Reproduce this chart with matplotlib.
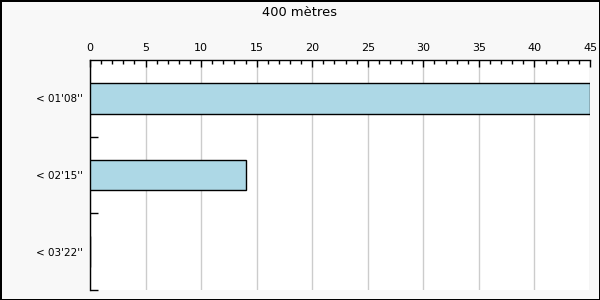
import matplotlib.pyplot as plt
import numpy as np
from matplotlib.ticker import MultipleLocator, FixedLocator

titre = "400 mètres"
categories = ["< 01'08''", "< 02'15''", "< 03'22''"]
valeurs = [45, 14, 0]

fig = plt.figure(figsize=(6, 3), dpi=100, facecolor="#f8f8f8", edgecolor="black", linewidth=2)
ax = fig.add_axes([90 / 600, 10 / 300, 500 / 600, 230 / 300])
ax.set_facecolor("white")

pos = np.arange(len(categories))
ax.barh(pos, valeurs, height=0.4, color="lightblue", edgecolor="black", linewidth=1, zorder=3)

ax.set_xlim(0, 45)
ax.set_ylim(len(categories) - 0.5, -0.5)

ax.xaxis.tick_top()
ax.xaxis.set_major_locator(MultipleLocator(5))
ax.xaxis.set_minor_locator(MultipleLocator(1))
ax.tick_params(axis="x", which="major", direction="in", length=5, width=1, labelsize=8, pad=5)
ax.tick_params(axis="x", which="minor", direction="in", length=3, width=1)
ax.grid(axis="x", color="#cccccc", linewidth=1, zorder=0)

ax.set_yticks(pos)
ax.set_yticklabels(categories)
ax.yaxis.set_minor_locator(FixedLocator(pos + 0.5))
ax.tick_params(axis="y", which="major", length=0, labelsize=7.5, pad=5)
ax.tick_params(axis="y", which="minor", direction="in", length=6, width=1)

ax.spines["right"].set_visible(False)
ax.spines["bottom"].set_visible(False)
ax.spines["left"].set_linewidth(1)
ax.spines["top"].set_linewidth(1)

fig.text(0.5, 1 - 12 / 300, titre, ha="center", va="center", fontsize=9.4)

fig.savefig("out.png", dpi=100, facecolor=fig.get_facecolor(), edgecolor=fig.get_edgecolor())
